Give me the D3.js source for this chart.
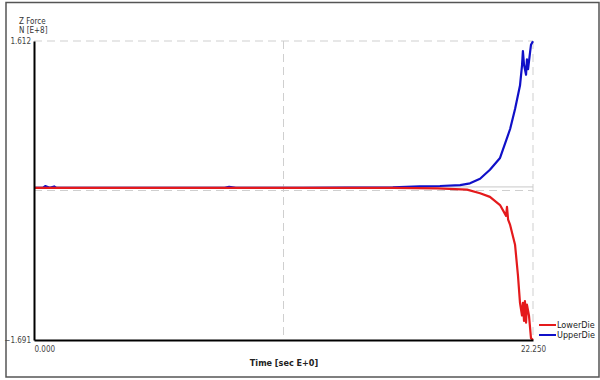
<!DOCTYPE html>
<html>
<head>
<meta charset="utf-8">
<script src="https://cdn.jsdelivr.net/npm/d3@7"></script>
<style>
  body { margin: 0; background: #fff; }
  svg text { font-family: "Liberation Sans Narrow", "DejaVu Sans Condensed", "Liberation Sans", sans-serif; }
</style>
</head>
<body>
<div id="chart"></div>
<script>
// time in sec, force in N E+8
const upperTime = [0, 0.4, 0.5, 0.7, 0.9, 1.0, 4.0, 8.5, 8.7, 9.0, 12.0, 16.0, 17.2, 18.1, 19.0, 19.44, 19.89, 20.33, 20.78,
  21.23, 21.45, 21.67, 21.76, 21.80, 21.85, 21.94, 21.98, 22.03, 22.12, 22.16, 22.25];
const upperForce = [-0.01, -0.01, 0.01, -0.01, 0.005, -0.01, -0.01, -0.01, 0.0, -0.01, -0.01, -0.005, 0.005, 0.01, 0.02, 0.04, 0.09, 0.19, 0.32,
  0.64, 0.86, 1.12, 1.34, 1.50, 1.35, 1.24, 1.41, 1.30, 1.49, 1.57, 1.61];
const lowerTime = [0, 4.0, 10.0, 16.0, 18.0, 19.31, 19.89, 20.33, 20.78, 21.05, 21.09, 21.14, 21.23, 21.45, 21.58, 21.67,
  21.76, 21.80, 21.85, 21.89, 21.94, 21.98, 22.07, 22.16, 22.25];
const lowerForce = [-0.01, -0.01, -0.01, -0.01, -0.015, -0.03, -0.07, -0.11, -0.20, -0.32, -0.22, -0.36, -0.42, -0.64, -0.98, -1.28,
  -1.42, -1.28, -1.48, -1.26, -1.50, -1.30, -1.42, -1.67, -1.691];
const seriesNames = ['LowerDie', 'UpperDie'];
const seriesColors = ['#e41a1c', '#1010c8'];
const xTicks = [0, 22.25];
const yTicks = [-1.691, 1.612];

const width = 600;
const height = 380;
const margin = { top: 41, bottom: 40, left: 34, right: 67 };

const svg = d3.select('#chart')
  .append('svg')
  .attr('width', width)
  .attr('height', height);

// outer frame
svg.append('rect')
  .attr('x', 6).attr('y', 2.5)
  .attr('width', 593).attr('height', 374.5)
  .attr('fill', 'none')
  .attr('stroke', '#555')
  .attr('stroke-width', 1.5);

const xScale = d3.scaleLinear()
  .domain([0, 22.25])
  .range([margin.left, width - margin.right]);
const yScale = d3.scaleLinear()
  .domain([-1.691, 1.612])
  .range([height - margin.bottom, margin.top]);

const x0 = xScale.range()[0], x1 = xScale.range()[1];
const y0 = yScale.range()[0], y1 = yScale.range()[1];

// grid
const grid = svg.append('g').attr('class', 'grid-container')
  .attr('stroke', '#cfcfcf')
  .attr('stroke-width', 1)
  .attr('stroke-dasharray', '8,5');
grid.append('line').attr('x1', x0).attr('x2', x1).attr('y1', y1).attr('y2', y1);
grid.append('line').attr('x1', x0).attr('x2', x1).attr('y1', (y0 + y1) / 2).attr('y2', (y0 + y1) / 2);
grid.append('line').attr('x1', x1).attr('x2', x1).attr('y1', y1).attr('y2', y0);
grid.append('line').attr('x1', (x0 + x1) / 2).attr('x2', (x0 + x1) / 2).attr('y1', y1).attr('y2', y0);

// zero line
svg.append('line')
  .attr('x1', x0).attr('x2', x1)
  .attr('y1', yScale(0)).attr('y2', yScale(0))
  .attr('stroke', '#c8c8c8')
  .attr('stroke-width', 1);

// series
const line = d3.line()
  .x(d => xScale(d[0]))
  .y(d => yScale(d[1]));
const upperData = upperTime.map((t, i) => [t, upperForce[i]]);
const lowerData = lowerTime.map((t, i) => [t, lowerForce[i]]);

svg.append('path')
  .datum(upperData)
  .attr('d', line)
  .attr('fill', 'none')
  .attr('stroke', seriesColors[1])
  .attr('stroke-width', 2.2)
  .attr('stroke-linejoin', 'round');
svg.append('path')
  .datum(lowerData)
  .attr('d', line)
  .attr('fill', 'none')
  .attr('stroke', seriesColors[0])
  .attr('stroke-width', 2.2)
  .attr('stroke-linejoin', 'round');

// axes
const yAxis = d3.axisLeft(yScale)
  .tickValues(yTicks)
  .tickFormat(d3.format('.3f'))
  .tickSize(0)
  .tickPadding(3);
const yAxisG = svg.append('g')
  .attr('class', 'y-axis-container')
  .attr('transform', `translate(${x0}, 0)`)
  .call(yAxis);
yAxisG.select('path').attr('stroke', '#000').attr('stroke-width', 2);
yAxisG.selectAll('text').attr('font-size', 8).attr('fill', '#444');

const xAxis = d3.axisBottom(xScale)
  .tickValues(xTicks)
  .tickFormat(d3.format('.3f'))
  .tickSize(0)
  .tickPadding(6);
const xAxisG = svg.append('g')
  .attr('class', 'x-axis-container')
  .attr('transform', `translate(0, ${y0})`)
  .call(xAxis);
xAxisG.select('path').attr('stroke', '#000').attr('stroke-width', 2);
xAxisG.selectAll('text').attr('font-size', 8).attr('fill', '#444');
xAxisG.selectAll('.tick').filter(d => d === 0).select('text').attr('text-anchor', 'start');

// axis titles
svg.append('text')
  .attr('x', 19).attr('y', 24)
  .attr('font-size', 8).attr('fill', '#333')
  .text('Z Force');
svg.append('text')
  .attr('x', 19).attr('y', 33)
  .attr('font-size', 8).attr('fill', '#333')
  .text('N [E+8]');
svg.append('text')
  .attr('x', 284).attr('y', 366)
  .attr('text-anchor', 'middle')
  .attr('font-size', 9).attr('font-weight', 700).attr('fill', '#222')
  .text('Time  [sec E+0]');

// legend
const legend = svg.append('g').attr('class', 'legend-container');
seriesNames.forEach((name, i) => {
  const ly = 325 + i * 10;
  legend.append('line')
    .attr('x1', 539).attr('x2', 556)
    .attr('y1', ly).attr('y2', ly)
    .attr('stroke', seriesColors[i])
    .attr('stroke-width', 2);
  legend.append('text')
    .attr('x', 557).attr('y', ly + 3)
    .attr('font-size', 9).attr('fill', '#222')
    .text(name);
});
</script>
</body>
</html>
